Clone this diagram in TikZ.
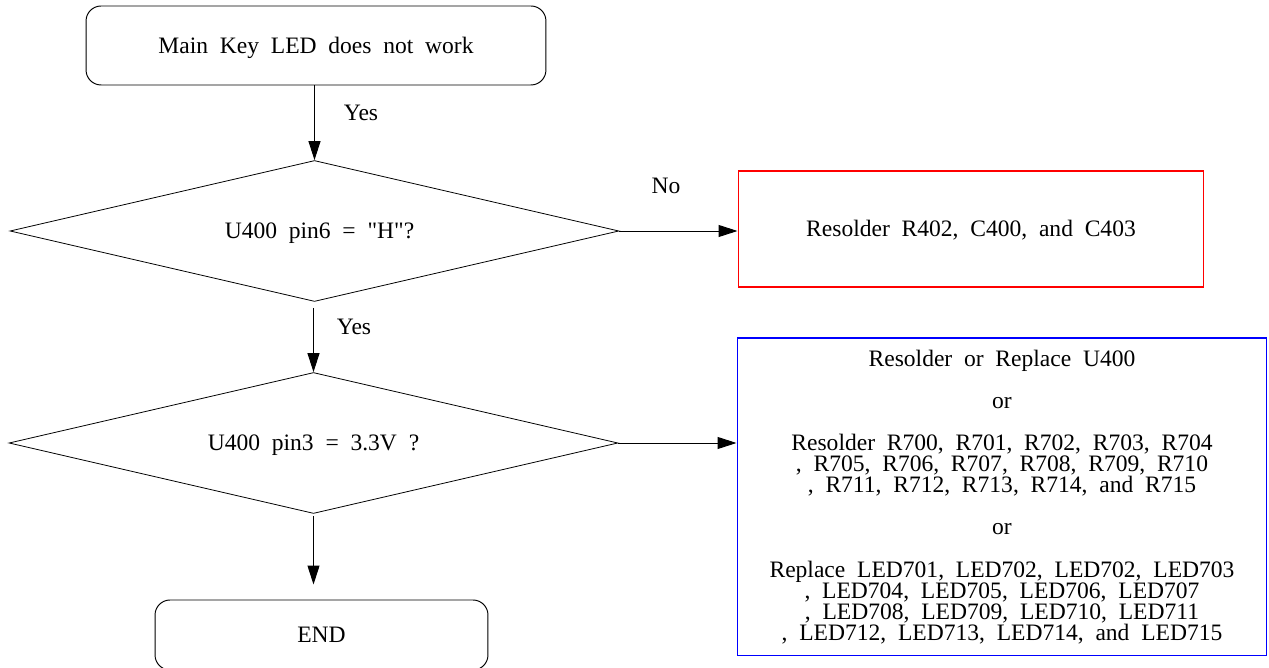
\documentclass[tikz,border=0pt]{standalone}
\usepackage{fontspec}
\setmainfont[WordSpace=2]{Liberation Serif}
\newfontfamily\plainfont[WordSpace=2]{Liberation Serif}
\usetikzlibrary{shapes.geometric,arrows.meta}
\begin{document}
\begin{tikzpicture}[x=0.02cm,y=-0.02cm,
  every node/.style={font=\fontsize{13.4}{12}\selectfont},
  capcenter/.style={text height=9pt,text depth=0pt},
  arr/.style={line width=0.55pt,-{Triangle[length=0.38cm,width=0.24cm]}},
  termbox/.style={draw,line width=0.55pt,rounded corners=0.3cm,inner sep=0,capcenter},
  decide/.style={draw,diamond,line width=0.45pt,inner sep=0,minimum width=12.18cm,minimum height=2.82cm,aspect=4.32,capcenter},
  actbox/.style={line width=0.6pt,inner sep=0},
  lbl/.style={inner sep=0}
]
\useasboundingbox (0,0) rectangle (1269,668);

\node[termbox,minimum width=9.2cm,minimum height=1.58cm] (start) at (316,45.5) {Main Key LED does not work};
\node[decide] (d1) at (314.5,231) {\hspace{0.2cm}\plainfont U400 pin6 = "H"?};
\node[actbox,draw=red,minimum width=9.32cm,minimum height=2.32cm,capcenter] (fix1) at (971,229) {Resolder R402, C400, and C403};
\node[decide] (d2) at (313.5,443) {U400 pin3 = 3.3V ?};
\node[actbox,draw=blue,minimum width=10.6cm,minimum height=6.36cm,align=center] (fix2) at (1002,497) {Resolder or Replace U400\\[12pt]or\\[12pt]Resolder R700, R701, R702, R703, R704\\, R705, R706, R707, R708, R709, R710\\, R711, R712, R713, R714, and R715\\[12pt]or\\[12pt]Replace LED701, LED702, LED702, LED703\\, LED704, LED705, LED706, LED707\\, LED708, LED709, LED710, LED711\\, LED712, LED713, LED714, and LED715};
\node[termbox,minimum width=6.66cm,minimum height=1.4cm] (end) at (321.5,635) {END};

\node[lbl] (yes1) at (361,113) {Yes};
\node[lbl] (no1) at (666,186) {No};
\node[lbl] (yes2) at (354,327) {Yes};

\draw[arr] (d1.north |- start.south) -- (d1.north);
\draw[arr] (d1.east) -- (d1.east -| fix1.west);
\draw[arr,shorten <=6*0.02cm] (d2.north |- d1.south) -- (d2.north);
\draw[arr] (d2.east) -- (d2.east -| fix2.west);
\draw[arr,shorten <=2*0.02cm,shorten >=15*0.02cm] (d2.south) -- (d2.south |- end.north);
\end{tikzpicture}
\end{document}
